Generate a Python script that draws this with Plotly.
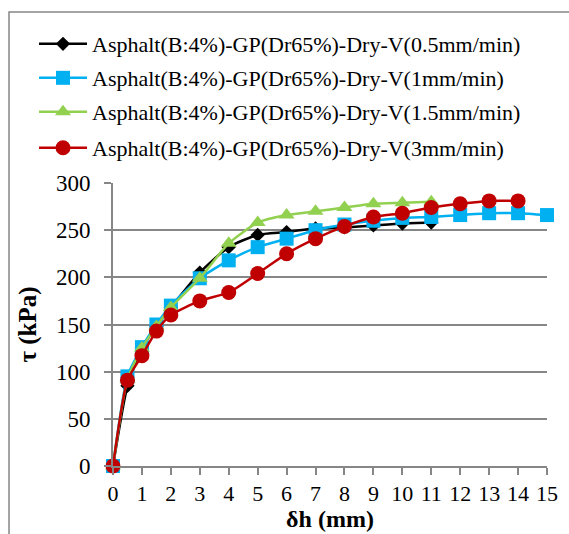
import plotly.graph_objects as go

x_05 = [0, 0.5, 1, 1.5, 2, 3, 4, 5, 6, 7, 8, 9, 10, 11]
y_05 = [0, 85, 125, 148, 168, 205, 232, 245, 248, 252, 253, 255, 257, 258]

x_1 = [0, 0.5, 1, 1.5, 2, 3, 4, 5, 6, 7, 8, 9, 10, 11, 12, 13, 14, 15]
y_1 = [0, 95, 126, 150, 170, 199, 218, 232, 241, 250, 256, 260, 263, 264, 266, 268, 268, 266]

x_15 = [0, 0.5, 1, 1.5, 2, 3, 4, 5, 6, 7, 8, 9, 10, 11]
y_15 = [0, 92, 125, 148, 168, 199, 236, 258, 266, 270, 274, 278, 279, 280]

x_3 = [0, 0.5, 1, 1.5, 2, 3, 4, 5, 6, 7, 8, 9, 10, 11, 12, 13, 14]
y_3 = [0, 91, 117, 143, 160, 175, 184, 204, 225, 241, 254, 264, 268, 274, 278, 281, 281]

names = [
    "Asphalt(B:4%)-GP(Dr65%)-Dry-V(0.5mm/min)",
    "Asphalt(B:4%)-GP(Dr65%)-Dry-V(1mm/min)",
    "Asphalt(B:4%)-GP(Dr65%)-Dry-V(1.5mm/min)",
    "Asphalt(B:4%)-GP(Dr65%)-Dry-V(3mm/min)",
]
colors = ["#000000", "#00B0F0", "#92D050", "#C00000"]
symbols = ["diamond", "square", "triangle-up", "circle"]
sizes = [11, 14, 14, 15]

SERIF = "Liberation Serif"
legend_ids = ["legend", "legend2", "legend3", "legend4"]
legend_y = [1.491, 1.371, 1.251, 1.124]

fig = go.Figure()
for xs, ys, nm, c, s, sz, lg in zip([x_05, x_1, x_15, x_3], [y_05, y_1, y_15, y_3],
                                    names, colors, symbols, sizes, legend_ids):
    fig.add_trace(go.Scatter(
        x=xs, y=ys, name=nm, mode="lines+markers", legend=lg, cliponaxis=False,
        line=dict(color=c, width=2.5, shape="spline", smoothing=0.6),
        marker=dict(color=c, symbol=s, size=sz),
    ))

legends = {}
for lg, ly in zip(legend_ids, legend_y):
    legends[lg] = dict(x=-0.182, y=ly, xanchor="left", yanchor="middle",
                       font=dict(family=SERIF, size=22, color="black"),
                       bgcolor="rgba(0,0,0,0)", itemwidth=48, borderwidth=0)

fig.update_layout(
    template="none",
    width=569, height=534,
    margin=dict(l=113, r=22, t=183, b=68),
    paper_bgcolor="white", plot_bgcolor="white",
    font=dict(family=SERIF, size=21, color="black"),
    showlegend=True,
    **legends,
    xaxis=dict(range=[0, 15], dtick=1, tick0=0, showgrid=False, zeroline=False,
               showline=True, linecolor="#868686", linewidth=2,
               ticks="outside", ticklen=7, tickcolor="#868686", tickwidth=2,
               tickfont=dict(family=SERIF, size=22, color="black"),
               title=dict(text="<b>δh (mm)</b>", standoff=2,
                          font=dict(family=SERIF, size=24, color="black"))),
    yaxis=dict(range=[0, 300], dtick=50, showgrid=True, gridcolor="#868686", gridwidth=2,
               zeroline=False, showline=True, linecolor="#868686", linewidth=2,
               ticks="outside", ticklen=7, tickcolor="#868686", tickwidth=2,
               ticklabelstandoff=9,
               tickfont=dict(family=SERIF, size=23, color="black"),
               title=dict(text="<b>τ (kPa)</b>", standoff=12,
                          font=dict(family=SERIF, size=25, color="black"))),
    shapes=[dict(type="rect", xref="paper", yref="paper",
                 x0=-0.2396, x1=1.3, y0=-0.5, y1=1.604,
                 line=dict(color="#868686", width=1.5), fillcolor="rgba(0,0,0,0)",
                 layer="below")],
)

fig.write_html("out.html")
